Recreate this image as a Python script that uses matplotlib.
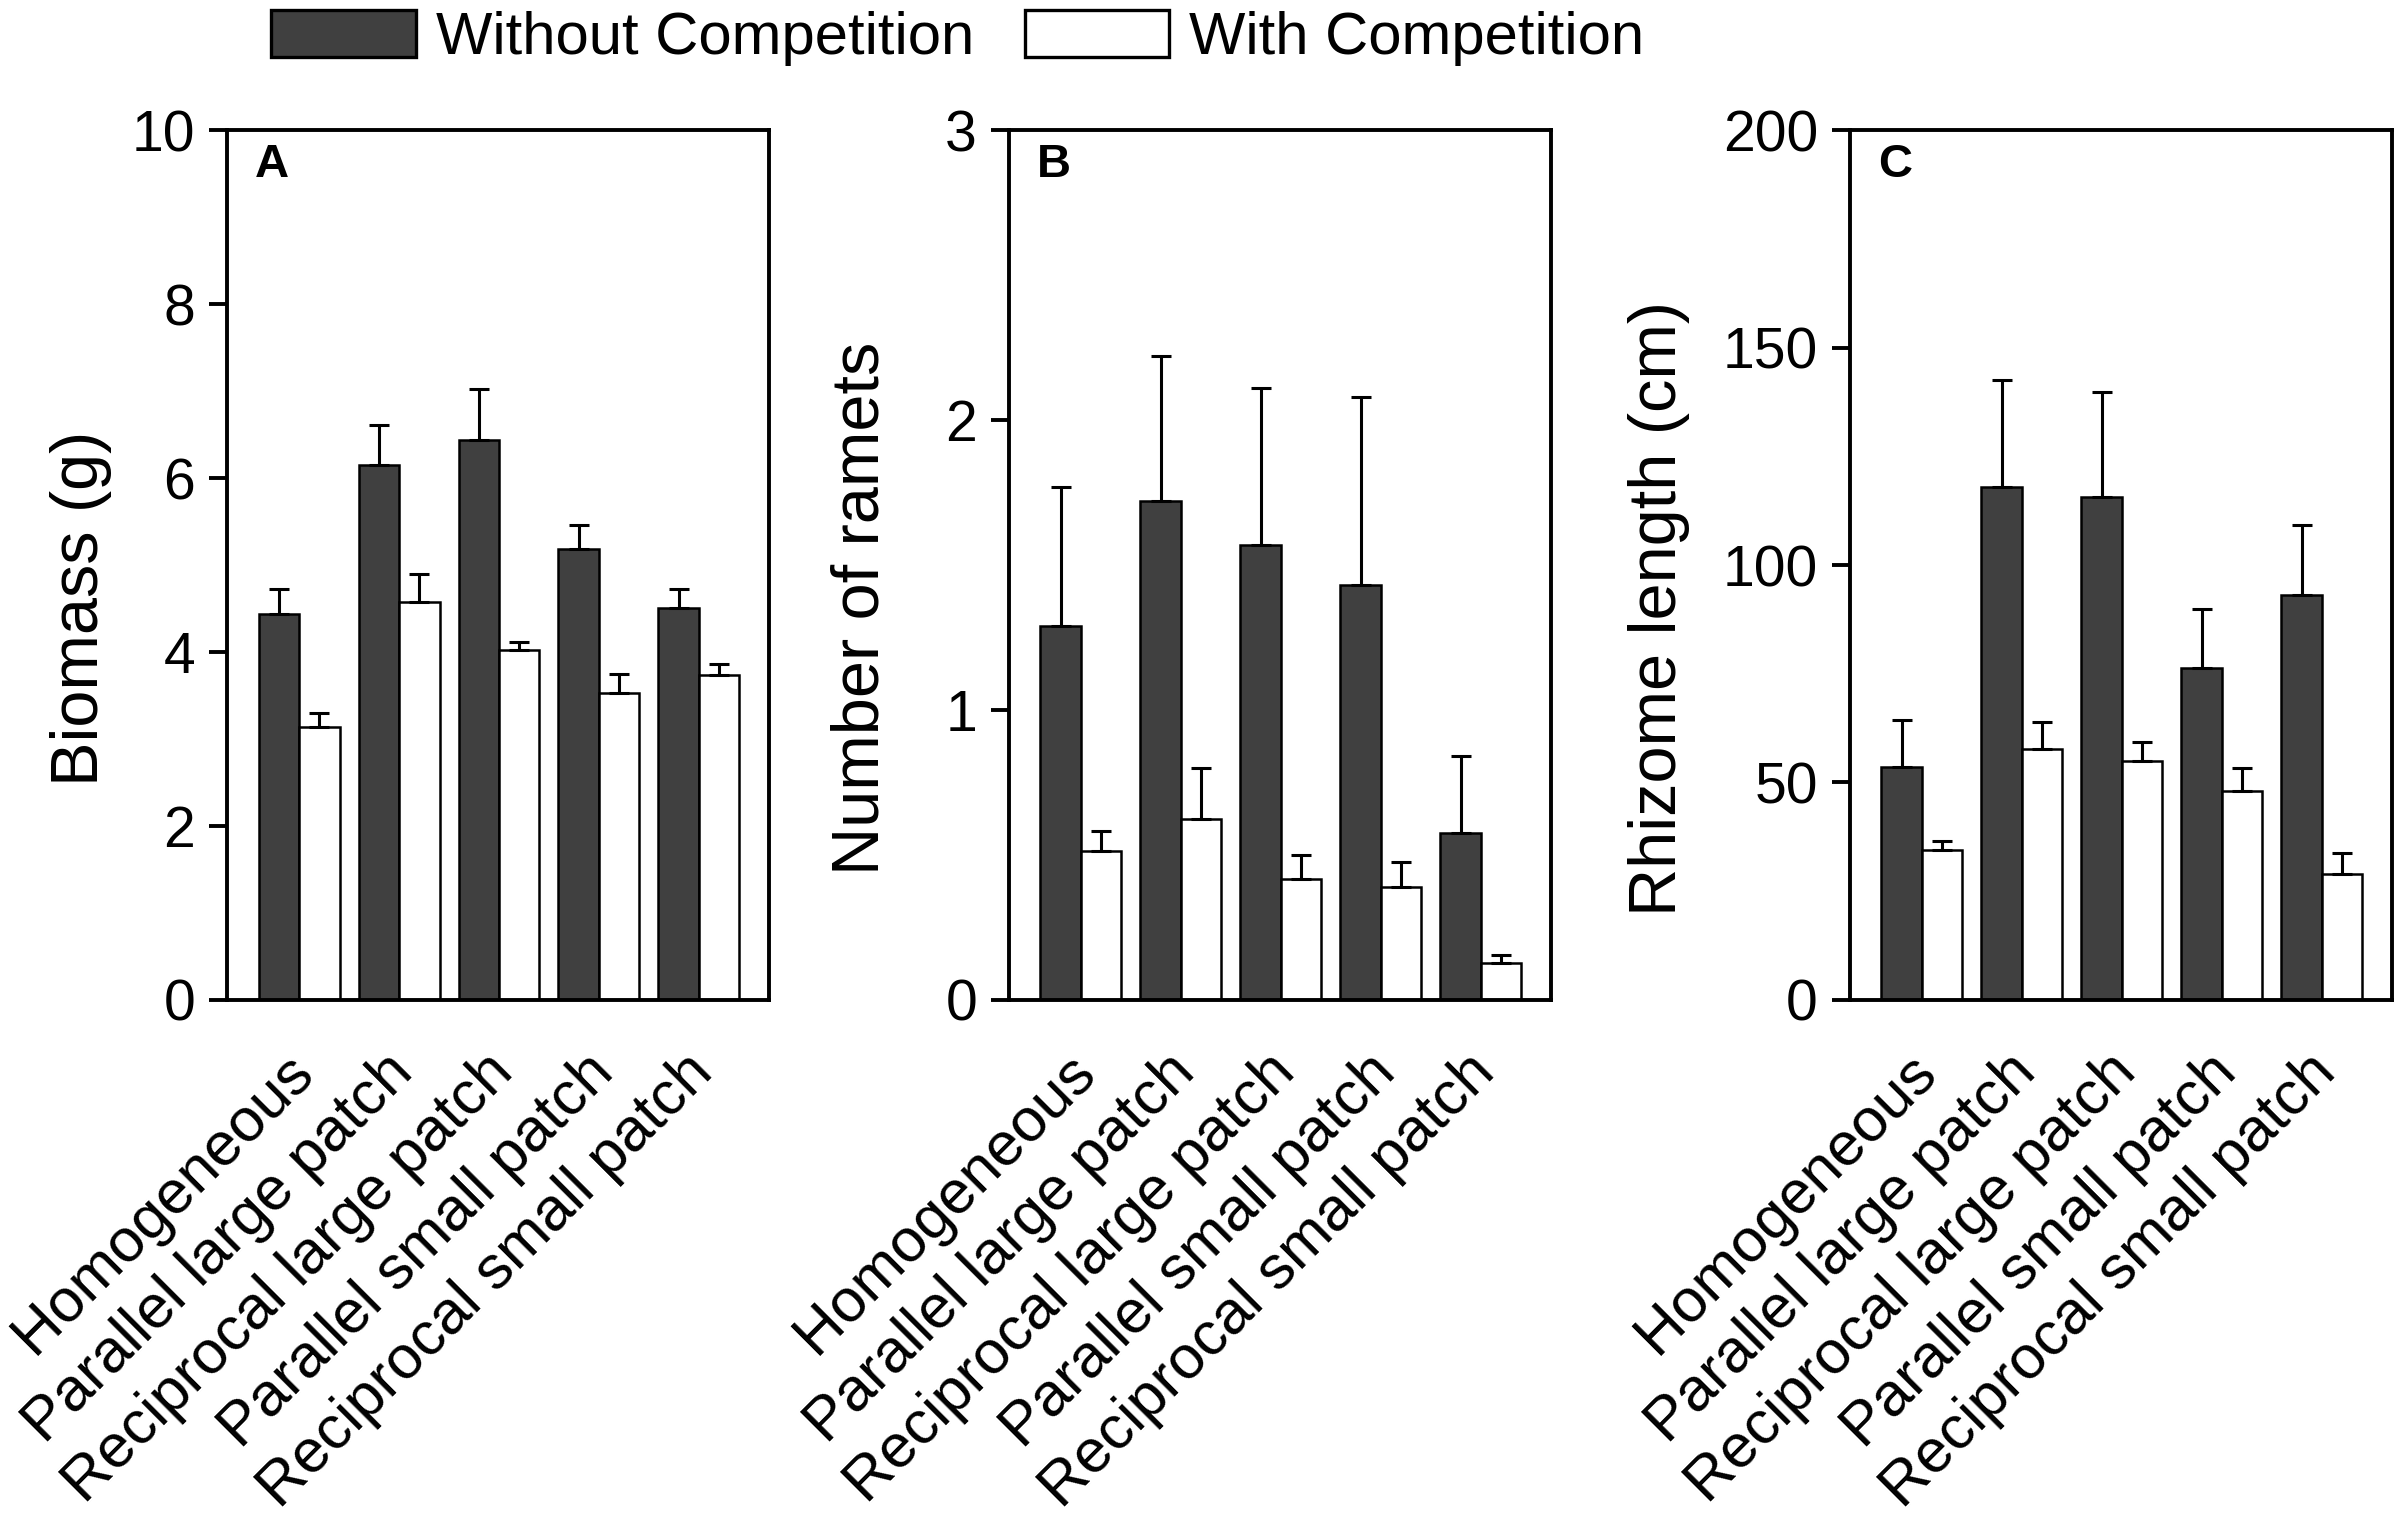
import numpy as np
import matplotlib
matplotlib.use("Agg")
import matplotlib.pyplot as plt
import matplotlib.transforms as mtransforms
from matplotlib.patches import Patch

plt.rcParams['font.family'] = ['Liberation Sans', 'DejaVu Sans']

# categories (same for the three panels)
treatments = ["Homogeneous", "Parallel large patch", "Reciprocal large patch",
              "Parallel small patch", "Reciprocal small patch"]

# A: biomass (g)
biomass_wo = [4.44, 6.15, 6.44, 5.18, 4.51]
biomass_wo_se = [0.28, 0.46, 0.59, 0.28, 0.21]
biomass_w = [3.14, 4.57, 4.02, 3.53, 3.74]
biomass_w_se = [0.16, 0.33, 0.10, 0.22, 0.12]

# B: number of ramets
ramets_wo = [1.29, 1.72, 1.57, 1.43, 0.575]
ramets_wo_se = [0.48, 0.50, 0.54, 0.65, 0.265]
ramets_w = [0.513, 0.625, 0.416, 0.389, 0.126]
ramets_w_se = [0.07, 0.175, 0.083, 0.087, 0.03]

# C: rhizome length (cm)
rhizome_wo = [53.6, 118.0, 115.7, 76.3, 93.2]
rhizome_wo_se = [10.8, 24.5, 24.2, 13.7, 16.1]
rhizome_w = [34.5, 57.8, 54.9, 48.1, 29.0]
rhizome_w_se = [2.0, 6.1, 4.4, 5.2, 4.9]

panels = [
    ("A", "Biomass (g)", biomass_wo, biomass_wo_se, biomass_w, biomass_w_se, 10, [0, 2, 4, 6, 8, 10], -0.212),
    ("B", "Number of ramets", ramets_wo, ramets_wo_se, ramets_w, ramets_w_se, 3, [0, 1, 2, 3], -0.215),
    ("C", "Rhizome length (cm)", rhizome_wo, rhizome_wo_se, rhizome_w, rhizome_w_se, 200, [0, 50, 100, 150, 200], -0.296),
]

dark = '#404040'
w = 0.405
lw = 1.4

fig = plt.figure(figsize=(12, 7.575))
lefts = [0.0946, 0.4204, 0.7708]
shift = mtransforms.ScaledTranslation(2 / 72, 0, fig.dpi_scale_trans)

for left, (letter, ylab, wo, wo_se, wi, wi_se, ymax, yt, labx) in zip(lefts, panels):
    ax = fig.add_axes([left, 0.340, 0.2258, 0.574])
    x = np.arange(1, len(treatments) + 1)
    ax.bar(x - w / 2, wo, w, color=dark, edgecolor='black', linewidth=0.9, zorder=2)
    ax.bar(x + w / 2, wi, w, color='white', edgecolor='black', linewidth=0.9, zorder=2)
    ax.errorbar(x - w / 2, wo, yerr=[np.zeros(len(wo)), wo_se], fmt='none',
                ecolor='black', elinewidth=1.1, capsize=3.5, capthick=1.1, zorder=3)
    ax.errorbar(x + w / 2, wi, yerr=[np.zeros(len(wi)), wi_se], fmt='none',
                ecolor='black', elinewidth=1.1, capsize=3.5, capthick=1.1, zorder=3)

    ax.set_xlim(0.28, 5.70)
    ax.set_ylim(0, ymax)
    ax.set_yticks(yt)
    ax.tick_params(axis='y', direction='out', length=6.5, width=lw, pad=5, labelsize=20.5)
    ax.set_xticks(x)
    ax.set_xticklabels(treatments, rotation=45, ha='right', va='center',
                       rotation_mode='anchor', fontsize=22)
    ax.tick_params(axis='x', length=0, pad=23)
    for lab in ax.get_xticklabels():
        lab.set_transform(lab.get_transform() + shift)
    for s in ax.spines.values():
        s.set_linewidth(lw)
    ax.set_ylabel(ylab, fontsize=24)
    ax.yaxis.set_label_coords(labx, 0.45)
    ax.text(0.052, 0.985, letter, transform=ax.transAxes, ha='left', va='top',
            fontsize=17, fontweight='bold')

handles = [Patch(facecolor=dark, edgecolor='black', linewidth=1.2, label='Without Competition'),
           Patch(facecolor='white', edgecolor='black', linewidth=1.2, label='With Competition')]
fig.legend(handles=handles, loc='upper center', bbox_to_anchor=(0.399, 1.017), ncol=2,
           frameon=False, fontsize=21.5, handlelength=2.42, handleheight=0.82,
           handletextpad=0.33, columnspacing=0.85, borderpad=0.1)

fig.savefig('out.png', dpi=200)
